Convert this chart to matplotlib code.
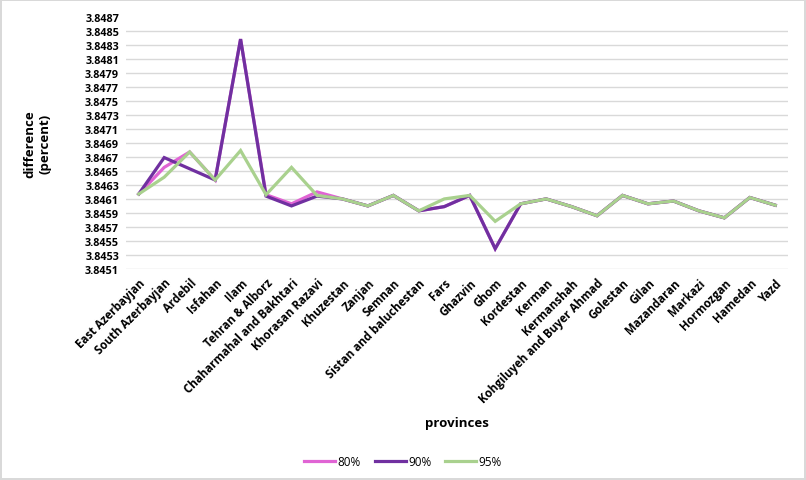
import matplotlib
matplotlib.use("Agg")
import matplotlib.pyplot as plt
import numpy as np

plt.rcParams['font.family'] = ['Open Sans', 'DejaVu Sans']

provinces = ["East Azerbayjan", "South Azerbayjan", "Ardebil", "Isfahan", "Ilam",
             "Tehran & Alborz", "Chaharmahal and Bakhtari", "Khorasan Razavi", "Khuzestan",
             "Zanjan", "Semnan", "Sistan and baluchestan", "Fars", "Ghazvin", "Ghom",
             "Kordestan", "Kerman", "Kermanshah", "Kohgiluyeh and Buyer Ahmad", "Golestan",
             "Gilan", "Mazandaran", "Markazi", "Hormozgan", "Hamedan", "Yazd"]

p80 = [3.84617, 3.84655, 3.84677, 3.84637, 3.84838, 3.84616, 3.84603, 3.84620, 3.84610,
       3.84600, 3.84615, 3.84593, 3.84599, 3.84615, 3.84539, 3.84603, 3.84610, 3.84599,
       3.84586, 3.84615, 3.84603, 3.84607, 3.84593, 3.84583, 3.84612, 3.84601]
p90 = [3.84617, 3.84669, 3.84653, 3.84637, 3.84838, 3.84614, 3.84600, 3.84614, 3.84610,
       3.84600, 3.84615, 3.84593, 3.84599, 3.84615, 3.84539, 3.84603, 3.84610, 3.84599,
       3.84586, 3.84615, 3.84603, 3.84607, 3.84593, 3.84583, 3.84612, 3.84601]
p95 = [3.84617, 3.84641, 3.84677, 3.84637, 3.84679, 3.84616, 3.84655, 3.84615, 3.84610,
       3.84600, 3.84615, 3.84593, 3.84610, 3.84615, 3.84578, 3.84603, 3.84610, 3.84599,
       3.84586, 3.84615, 3.84603, 3.84607, 3.84593, 3.84583, 3.84612, 3.84601]

yticks = np.arange(3.8451, 3.84871, 0.0002)

fig = plt.figure(figsize=(8.06, 4.81), dpi=100)
fig.patch.set_edgecolor('#d9d9d9')
fig.patch.set_linewidth(1.5)
ax = fig.add_axes([126 / 806, 1 - 270 / 481, 662 / 806, 252.3 / 481])

x = np.arange(len(provinces))
ax.plot(x, p80, color='#e064d4', lw=2.3, label='80%', solid_joinstyle='miter')
ax.plot(x, p90, color='#7030a0', lw=2.3, label='90%', solid_joinstyle='miter')
ax.plot(x, p95, color='#a9d18e', lw=2.3, label='95%', solid_joinstyle='miter')

ax.set_xlim(-0.5, len(provinces) - 0.5)
ax.set_ylim(3.8451, 3.8487)
ax.set_yticks(yticks)
ax.set_yticklabels([f"{v:.4f}" for v in yticks], fontsize=7.8, fontweight='bold')
ax.set_xticks(x)
ax.set_xticklabels(provinces, rotation=45, ha='right', rotation_mode='anchor',
                   fontsize=8.3, fontweight='bold')
ax.tick_params(length=0, pad=5)
ax.grid(axis='y', color='#d9d9d9', lw=1)
ax.set_axisbelow(True)
ax.get_ygridlines()[-1].set_visible(False)
for s in ax.spines.values():
    s.set_visible(False)

ax.set_ylabel("difference\n(percent)", fontsize=9.5, fontweight='bold', labelpad=24)
ax.set_xlabel("provinces", fontsize=9.5, fontweight='bold', labelpad=8)

fig.legend(loc='center', bbox_to_anchor=(0.5, 1 - 463 / 481), ncol=3, frameon=False,
           fontsize=8.5, handlelength=2.6, columnspacing=1.2, handletextpad=0.2)

fig.savefig("out.png", dpi=100)
